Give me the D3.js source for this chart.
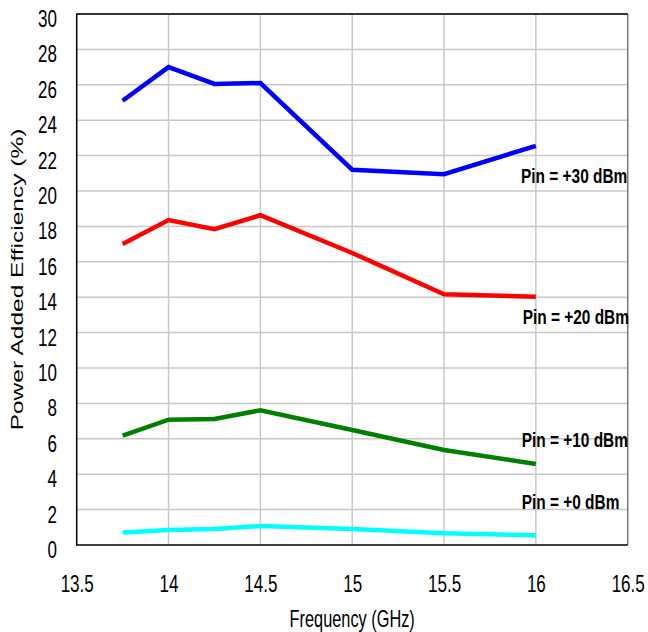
<!DOCTYPE html>
<html>
<head>
<meta charset="utf-8">
<script src="https://cdn.jsdelivr.net/npm/d3@7"></script>
<style>
  body { margin: 0; background: #fff; }
  svg { display: block; }
  text { font-family: "Liberation Sans", Arial, sans-serif; fill: #000; }
</style>
</head>
<body>
<div id="chart"></div>
<script>
// Données
const frequencies = [13.75, 14, 14.25, 14.5, 15, 15.5, 16]
const pae30 = [25.1, 27.0, 26.05, 26.1, 21.2, 20.95, 22.55]
const pae20 = [17.0, 18.36, 17.84, 18.63, 16.5, 14.16, 14.03]
const pae10 = [6.18, 7.08, 7.12, 7.61, 6.5, 5.37, 4.58]
const pae0 = [0.7, 0.85, 0.9, 1.07, 0.9, 0.66, 0.55]
const seriesNames = ['Pin = +30 dBm', 'Pin = +20 dBm', 'Pin = +10 dBm', 'Pin = +0 dBm']
const seriesColors = ['#0000ff', '#ff0000', '#008000', '#00ffff']
const xTicks = [13.5, 14, 14.5, 15, 15.5, 16, 16.5]
const yTicks = [0, 2, 4, 6, 8, 10, 12, 14, 16, 18, 20, 22, 24, 26, 28, 30]

const series = [pae30, pae20, pae10, pae0]

// Constantes
const width = 648, height = 632
const margin = { top: 14, right: 20.3, bottom: 87, left: 76.7 }
const squeeze = 0.71 // le texte de l'original est écrasé horizontalement

const svg = d3.select('#chart')
    .append('svg')
    .attr('width', width)
    .attr('height', height)

const x = d3.scaleLinear()
    .domain([13.5, 16.5])
    .range([margin.left, width - margin.right])

const y = d3.scaleLinear()
    .domain([0, 30])
    .range([height - margin.bottom, margin.top])

// Grille
svg.append('g')
    .selectAll('line')
    .data(yTicks.slice(1))
    .enter()
    .append('line')
    .attr('x1', x(13.5)).attr('x2', x(16.5))
    .attr('y1', d => y(d)).attr('y2', d => y(d))
    .attr('stroke', '#c8c8c8')
    .attr('stroke-width', 1.5)

svg.append('g')
    .selectAll('line')
    .data(xTicks.slice(1, -1))
    .enter()
    .append('line')
    .attr('x1', d => x(d)).attr('x2', d => x(d))
    .attr('y1', y(0)).attr('y2', y(30))
    .attr('stroke', '#c8c8c8')
    .attr('stroke-width', 1.5)

// Cadre
svg.append('line')
    .attr('x1', x(16.5)).attr('x2', x(16.5))
    .attr('y1', y(0)).attr('y2', y(30))
    .attr('stroke', '#777').attr('stroke-width', 1.5)
svg.append('path')
    .attr('d', 'M' + x(16.5) + ',' + y(30) + 'H' + x(13.5) + 'V' + y(0) + 'H' + x(16.5))
    .attr('fill', 'none')
    .attr('stroke', '#000')
    .attr('stroke-width', 1.5)

// Axes
const xAxis = svg.append('g')
    .attr('transform', 'translate(0,' + y(0) + ')')
    .call(d3.axisBottom(x).tickValues(xTicks).tickSize(0).tickFormat(d3.format('')))
xAxis.select('.domain').remove()
xAxis.selectAll('text')
    .attr('y', 47.5).attr('dy', null)
    .attr('font-size', 24)
    .attr('font-family', null)
    .attr('transform', 'scale(' + squeeze + ',1)')

const yAxis = svg.append('g')
    .attr('transform', 'translate(' + x(13.5) + ',0)')
    .call(d3.axisLeft(y).tickValues(yTicks).tickSize(0))
yAxis.select('.domain').remove()
yAxis.selectAll('text')
    .attr('x', -19.7 / squeeze).attr('dy', null).attr('y', 12.5)
    .attr('font-size', 24)
    .attr('font-family', null)
    .attr('transform', 'scale(' + squeeze + ',1)')

// Titres
svg.append('text')
    .attr('transform', 'translate(' + x(15) + ',627) scale(' + squeeze + ',1)')
    .attr('text-anchor', 'middle')
    .attr('font-size', 23)
    .text('Frequency (GHz)')

svg.append('text')
    .attr('transform', 'translate(22.5,' + y(15) + ') scale(' + squeeze + ',1) rotate(-90)')
    .attr('text-anchor', 'middle')
    .attr('font-size', 24.5)
    .text('Power Added Efficiency (%)')

// Courbes
const line = d3.line()
    .x((d, i) => x(frequencies[i]))
    .y(d => y(d))

svg.append('g')
    .selectAll('path')
    .data(series)
    .enter()
    .append('path')
    .attr('d', d => line(d))
    .attr('fill', 'none')
    .attr('stroke', (d, i) => seriesColors[i])
    .attr('stroke-width', 4.5)
    .attr('stroke-linejoin', 'miter')

// Étiquettes des séries
const labelPos = [[521, 183.3], [522.7, 324.3], [521.7, 447.3], [521.7, 509]]
svg.append('g')
    .selectAll('text')
    .data(seriesNames)
    .enter()
    .append('text')
    .attr('transform', (d, i) => 'translate(' + labelPos[i][0] + ',' + labelPos[i][1] + ') scale(0.735,1)')
    .attr('font-size', 21)
    .attr('font-weight', 'bold')
    .text(d => d)
</script>
</body>
</html>
